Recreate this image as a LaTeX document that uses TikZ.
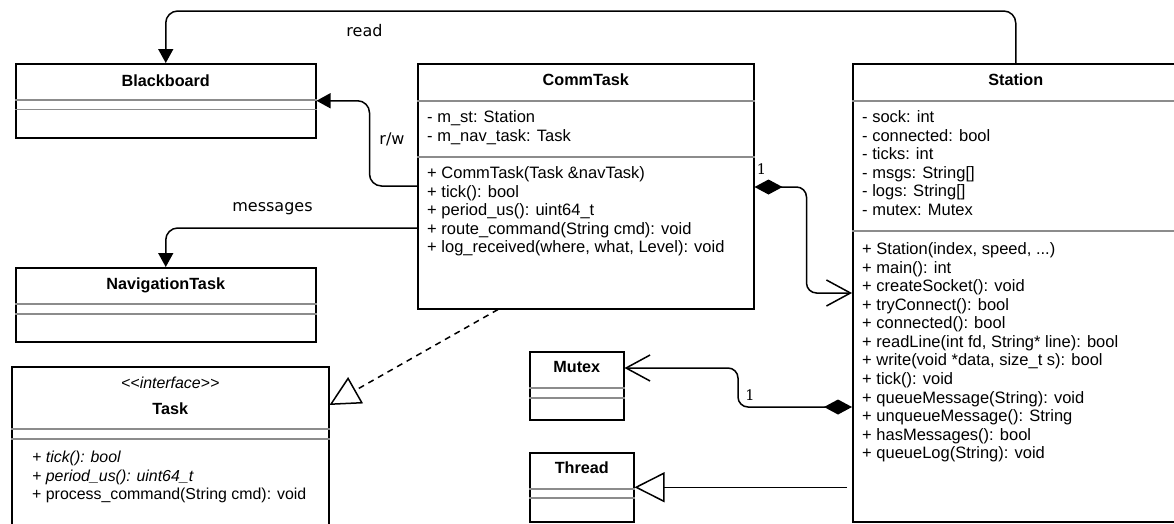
\documentclass[tikz,border=0pt]{standalone}
\usepackage{fontspec}
\setmainfont{Liberation Sans}
\newfontfamily\lblfont{DejaVu Sans}
\newfontfamily\numfont{DejaVu Serif}
\usetikzlibrary{arrows.meta, positioning, calc}
\newcommand{\umlfont}{\fontsize{15.9}{18.55}\selectfont}
\newcommand{\umlfontbig}{\fontsize{16.5}{18.55}\selectfont}
\newcommand{\clsep}[2]{\draw[sepline] ([yshift=-#2pt]#1.north west) -- ([yshift=-#2pt]#1.north east);}
\tikzset{
  cls/.style     = {rectangle, draw, line width=1.5pt, anchor=north west,
                    inner sep=0pt},
  sepline/.style = {draw=black!45, line width=1.3pt},
  ctitle/.style  = {anchor=base, inner sep=0pt, font=\fontsize{16.2}{18.55}\selectfont\bfseries},
  members/.style = {anchor=north west, align=left, inner sep=0pt, font=\umlfontbig},
  lbl/.style     = {inner sep=0pt, font=\lblfont\fontsize{16}{19}\selectfont},
  mult/.style    = {inner sep=0pt, font=\numfont\fontsize{14.5}{16}\selectfont},
  arrow/.style   = {-{Triangle[length=14pt,width=15pt]}, line width=1.5pt,
                    rounded corners=12pt},
  comp/.style    = {{Diamond[length=28pt,width=15pt]}-{Straight Barb[length=24pt,width=26pt]},
                    line width=1.5pt, rounded corners=10pt},
  inherit/.style = {-{Triangle[open,length=30pt,width=30pt]}, line width=1.5pt},
  realize/.style = {inherit, dash pattern=on 6pt off 5pt},
}
\begin{document}
\begin{tikzpicture}[x=1pt, y=-1pt]
  \useasboundingbox (0,0) rectangle (1174,523);
  \clip (0,0) rectangle (1174,523);

  % classes
  \node[cls, minimum width=300pt, minimum height=74pt]  (bb)     at (15,63)   {};
  \node[cls, minimum width=336pt, minimum height=245pt] (comm)   at (417,63)  {};
  \node[cls, minimum width=326pt, minimum height=458pt] (st)     at (852,63)  {};
  \node[cls, minimum width=300pt, minimum height=74pt]  (nav)    at (15,267)  {};
  \node[cls, minimum width=317pt, minimum height=220pt] (task)   at (11,366)  {};
  \node[cls, minimum width=94pt,  minimum height=68pt]  (mutex)  at (529,351) {};
  \node[cls, minimum width=104pt, minimum height=69pt]  (thread) at (529,452) {};

  \node[ctitle] (bbname)     at ([yshift=-23pt]bb.north)     {Blackboard};
  \node[ctitle] (commname)   at ([yshift=-22pt]comm.north)   {CommTask};
  \node[ctitle] (stname)     at ([yshift=-22pt]st.north)     {Station};
  \node[ctitle] (navname)    at ([yshift=-22pt]nav.north)    {NavigationTask};
  \node[ctitle, font=\umlfont\itshape] (taskstereo) at ([yshift=-22.5pt]task.north) {<{}<interface>{}>};
  \node[ctitle] (taskname)   at ([yshift=-48pt]task.north)   {Task};
  \node[ctitle] (mutexname)  at ([yshift=-21.7pt]mutex.north)  {Mutex};
  \node[ctitle] (threadname) at ([yshift=-21pt]thread.north) {Thread};

  \clsep{bb}{37}     \clsep{bb}{46.5}
  \clsep{comm}{38}   \clsep{comm}{94}
  \clsep{st}{38}     \clsep{st}{168}
  \clsep{nav}{37}    \clsep{nav}{47}
  \clsep{task}{63}   \clsep{task}{73}
  \clsep{mutex}{37}  \clsep{mutex}{47}
  \clsep{thread}{37} \clsep{thread}{46}

  % members
  \node[members] (commattr) at (427,109.5)
        {\strut- m\_st: Station\\- m\_nav\_task: Task};
  \node[members] (commops)  at (427,165.5)
        {\strut+ CommTask(Task \&navTask)\\+ tick(): bool\\+ period\_us(): uint64\_t\\
         + route\_command(String cmd): void\\+ log\_received(where, what, Level): void};
  \node[members] (stattr)   at (862,109.5)
        {\strut- sock: int\\- connected: bool\\- ticks: int\\- msgs: String[]\\
         - logs: String[]\\- mutex: Mutex};
  \node[members] (stops)    at (862,241.5)
        {\strut+ Station(index, speed, ...)\\+ main(): int\\+ createSocket(): void\\
         + tryConnect(): bool\\+ connected(): bool\\+ readLine(int fd, String* line): bool\\
         + write(void *data, size\_t s): bool\\+ tick(): void\\+ queueMessage(String): void\\
         + unqueueMessage(): String\\+ hasMessages(): bool\\+ queueLog(String): void};
  \node[members, font=\umlfont] (taskops) at (32,449.5)
        {\strut\textit{+ tick(): bool}\\\textit{+ period\_us(): uint64\_t}\\
         + process\_command(String cmd): void};

  % relations
  \coordinate (readtop) at (0,11);
  \draw[arrow] (st.north) -- (st.north |- readtop) -| (bb.north);
  \draw[arrow] ([yshift=-123pt]comm.north west) -| ([xshift=53pt]bb.east) -- (bb.east);
  \draw[arrow] ([yshift=-165pt]comm.north west) -| (nav.north);
  \draw[realize] ([xshift=81pt]comm.south west) -- ([yshift=-39pt]task.north east);
  \draw[comp] ([yshift=-124pt]comm.north east) -- ++(52,0) |- ([yshift=-230pt]st.north west);
  \draw[comp] ([yshift=-344pt]st.north west) -- ++(-114,0) |- ([yshift=-17pt]mutex.north east);
  \draw[inherit, shorten <=5pt] (st.west |- thread.east) -- (thread.east);

  \node[lbl] (readlbl) at (364.5,31)  {read};
  \node[lbl] (rwlbl)   at (392,139)   {r/w};
  \node[lbl] (msglbl)  at (272.5,209) {messages};
  \node[mult] (commmult)  at (761.5,168.7) {1};
  \node[mult] (mutexmult) at (750,394.7)   {1};
\end{tikzpicture}
\end{document}
